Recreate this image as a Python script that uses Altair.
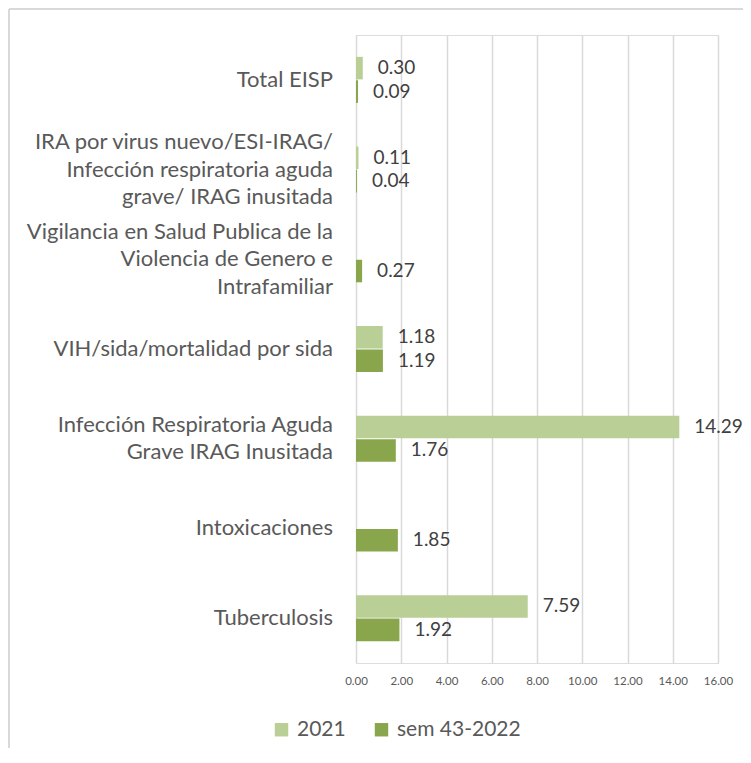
import altair as alt
import pandas as pd

categories = [
    "Total EISP",
    "IRA por virus nuevo/ESI-IRAG/\nInfección respiratoria aguda\ngrave/ IRAG inusitada",
    "Vigilancia en Salud Publica de la\nViolencia de Genero e\nIntrafamiliar",
    "VIH/sida/mortalidad por sida",
    "Infección Respiratoria Aguda\nGrave IRAG Inusitada",
    "Intoxicaciones",
    "Tuberculosis",
]
series = ["2021", "sem 43-2022"]
values_2021 = [0.30, 0.11, None, 1.18, 14.29, None, 7.59]
values_2022 = [0.09, 0.04, 0.27, 1.19, 1.76, 1.85, 1.92]
x_ticks = [0, 2, 4, 6, 8, 10, 12, 14, 16]
colors = ["#B9CF96", "#8AA64D"]

rows = []
for c, v1, v2 in zip(categories, values_2021, values_2022):
    if v1 is not None:
        rows.append({"cat": c, "serie": series[0], "val": v1})
    if v2 is not None:
        rows.append({"cat": c, "serie": series[1], "val": v2})
df = pd.DataFrame(rows)
cat_df = pd.DataFrame({"cat": categories})

FONT = "Lato"
LINE_H = 27.5

y_enc = alt.Y(
    "cat:N",
    sort=categories,
    scale=alt.Scale(domain=categories, paddingInner=0.487, paddingOuter=0.2435),
    axis=alt.Axis(title=None, ticks=False, domain=False, labels=False),
)
x_enc = alt.X(
    "val:Q",
    scale=alt.Scale(domain=[0, 16], nice=False),
    axis=alt.Axis(
        title=None,
        values=x_ticks,
        format=".2f",
        grid=True,
        gridColor="#D9D9D9",
        gridWidth=1.5,
        ticks=False,
        domain=False,
        labelFont=FONT,
        labelFontSize=11.5,
        labelColor="#595959",
        labelPadding=12,
        labelOverlap=False,
        labelFlush=False,
    ),
)
yoff = alt.YOffset("serie:N", sort=series, scale=alt.Scale(domain=series, paddingInner=0.04))

base = alt.Chart(df)
bars = base.mark_bar().encode(
    y=y_enc,
    x=x_enc,
    yOffset=yoff,
    color=alt.Color(
        "serie:N",
        sort=series,
        scale=alt.Scale(domain=series, range=colors),
        legend=alt.Legend(
            title=None,
            orient="none",
            direction="horizontal",
            legendX=-85,
            legendY=684,
            symbolType="square",
            symbolSize=180,
            symbolStrokeWidth=0,
            symbolOpacity=1,
            labelFont=FONT,
            labelFontSize=21,
            labelColor="#595959",
            labelOffset=5,
            columnPadding=25,
        ),
    ),
)
labels = base.mark_text(
    align="left", baseline="middle", dx=15, font=FONT, fontSize=19, color="#404040"
).encode(
    y=alt.Y("cat:N", sort=categories),
    x="val:Q",
    yOffset=alt.YOffset("serie:N", sort=series),
    text=alt.Text("val:Q", format=".2f"),
)

cat_labels = (
    alt.Chart(cat_df)
    .transform_calculate(lines="split(datum.cat, '\\n')")
    .mark_text(
        align="right",
        baseline="middle",
        font=FONT,
        fontSize=22,
        lineHeight=LINE_H,
        color="#595959",
        dy={"expr": "-(length(split(datum.cat, '\\n')) - 1) * %s / 2" % LINE_H},
    )
    .encode(
        y=alt.Y("cat:N", sort=categories, axis=None),
        x=alt.value(-23),
        text="lines:N",
    )
)

border_data = alt.Data(values=[{"k": 1}])
left_border = alt.Chart(border_data).mark_rule(color="#D9D9D9", strokeWidth=2).encode(
    x=alt.value(-347), y=alt.value(-26), y2=alt.value(900)
)
top_border = alt.Chart(border_data).mark_rule(color="#D9D9D9", strokeWidth=2).encode(
    x=alt.value(-347), x2=alt.value(900), y=alt.value(-26)
)

chart = (
    alt.layer(left_border, top_border, bars, labels, cat_labels)
    .properties(
        width=362,
        height=628,
        autosize=alt.AutoSizeParams(type="none"),
        padding={"left": 348, "top": 27, "right": 25, "bottom": 85},
    )
    .configure_view(stroke=None)
    .configure(background="white")
)

chart.save("out.html", embed_options={"renderer": "svg", "actions": False})
